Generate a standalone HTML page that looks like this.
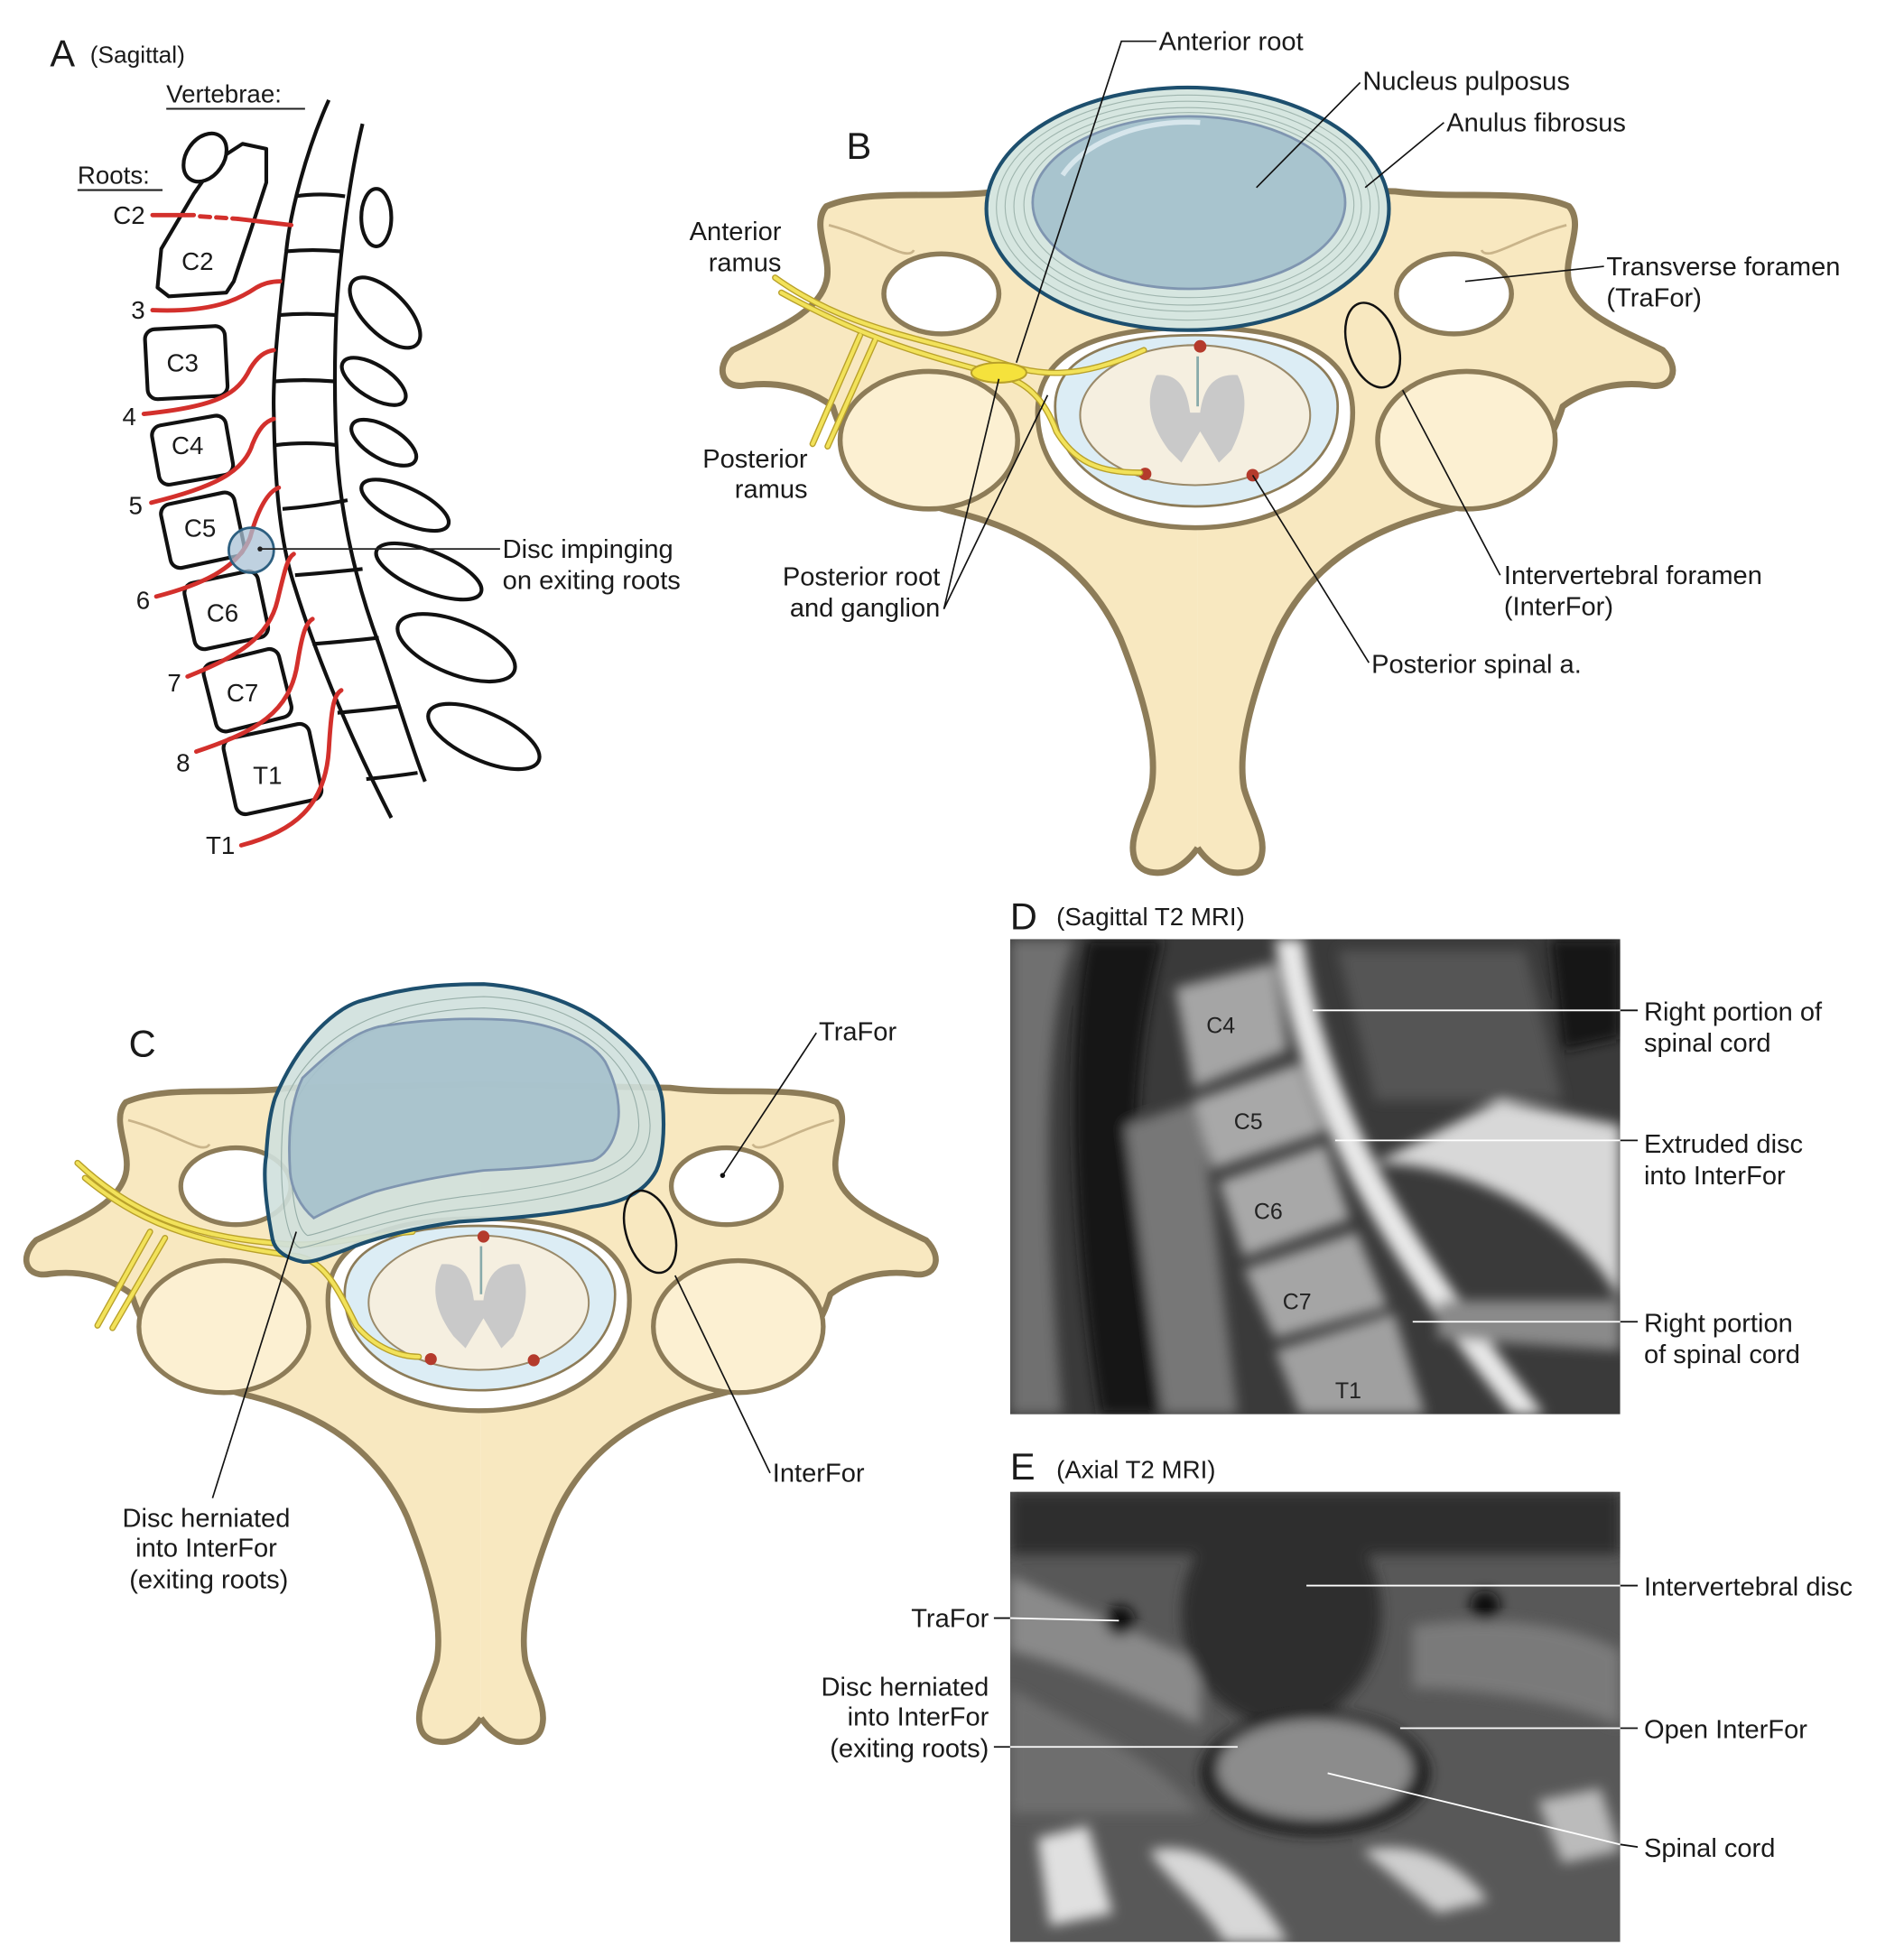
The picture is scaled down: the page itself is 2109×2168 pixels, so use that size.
<!DOCTYPE html>
<html><head><meta charset="utf-8"><style>
html,body{margin:0;padding:0;background:#fff;}
svg{display:block;}
text{font-family:"Liberation Sans",Arial,sans-serif;fill:#1a1a1a;}
</style></head><body>
<svg width="2109" height="2168" viewBox="0 0 1523 1565" preserveAspectRatio="none" xmlns="http://www.w3.org/2000/svg">
<defs>
<filter id="bl" x="-10%" y="-10%" width="120%" height="120%"><feGaussianBlur stdDeviation="5"/></filter>
<clipPath id="cd"><rect x="808" y="751" width="488" height="380"/></clipPath>
<clipPath id="ce"><rect x="808" y="1193" width="488" height="360"/></clipPath>
<g id="half">
<path d="M958,150 L1116,153 C1170,160 1220,150 1255,165 C1268,180 1250,205 1255,225 C1262,252 1300,265 1330,280 C1345,295 1338,312 1318,308 C1295,305 1270,310 1250,325 C1235,375 1195,400 1150,410 C1090,425 1045,455 1020,510 C1000,560 990,600 995,630 C1000,650 1015,670 1008,688 C1003,700 985,700 975,694 C968,690 962,684 958,678 Z" fill="#f8e8c0"/>
<path d="M958,150 L1116,153 C1170,160 1220,150 1255,165 C1268,180 1250,205 1255,225 C1262,252 1300,265 1330,280 C1345,295 1338,312 1318,308 C1295,305 1270,310 1250,325 C1235,375 1195,400 1150,410 C1090,425 1045,455 1020,510 C1000,560 990,600 995,630 C1000,650 1015,670 1008,688 C1003,700 985,700 975,694 C968,690 962,684 958,678" fill="none" stroke="#8d7c58" stroke-width="5" stroke-linejoin="round"/>
<path d="M1253,180 C1215,190 1190,210 1185,200" fill="none" stroke="#c9b48a" stroke-width="2"/>
<ellipse cx="1173" cy="352" rx="71" ry="55" fill="#fcf0d2" stroke="#8d7c58" stroke-width="4"/>
<ellipse cx="1163" cy="235" rx="46" ry="32" fill="#fff" stroke="#8d7c58" stroke-width="4"/>
</g>
<g id="vert">
<use href="#half"/>
<use href="#half" transform="matrix(-1,0,0,1,1916,0)"/>
<path d="M830,330 C830,280 880,262 956,262 C1040,262 1082,285 1082,330 C1082,390 1020,422 956,422 C890,422 830,390 830,330 Z" fill="#fff" stroke="#8d7c58" stroke-width="4"/>
<path d="M844,325 C844,285 890,268 956,268 C1030,268 1070,290 1070,325 C1070,375 1015,405 956,405 C898,405 844,375 844,325 Z" fill="#dcedf5" stroke="#8d7c58" stroke-width="2"/>
<ellipse cx="956" cy="332" rx="92" ry="56" fill="#f5efe0" stroke="#9a8a6a" stroke-width="1.5"/>
<path d="M925,300 C945,298 950,315 952,330 L960,330 C962,315 968,298 990,300 C1000,320 995,340 985,360 L975,370 L960,345 L945,370 L935,360 C920,340 915,320 925,300 Z" fill="#c9c9c9"/>
<line x1="958" y1="285" x2="958" y2="325" stroke="#8aa" stroke-width="2"/>
<circle cx="960" cy="277" r="5" fill="#b43a2c"/><circle cx="916" cy="379" r="5" fill="#b43a2c"/><circle cx="1002" cy="380" r="5" fill="#b43a2c"/>
</g>
</defs>

<!-- ===== Panel A ===== -->
<text x="40" y="53" font-size="30">A</text><text x="72" y="50" font-size="19">(Sagittal)</text>
<text x="133" y="82" font-size="20">Vertebrae:</text><line x1="133" y1="87" x2="244" y2="87" stroke="#222" stroke-width="1.5"/>
<text x="62" y="147" font-size="20">Roots:</text><line x1="62" y1="152" x2="130" y2="152" stroke="#222" stroke-width="1.5"/>
<g fill="none" stroke="#111" stroke-width="3">
<path d="M263,80 C245,120 232,170 229,201 C223,250 218,300 219,330 C220,400 226,440 236,470 C250,515 275,580 313,654"/>
<path d="M290,99 C280,140 272,200 269,252 C267,300 268,340 270,370 C275,430 290,480 303,515 C318,560 330,600 340,625"/>
<path d="M236,157 Q256,154 276,157 M229,201 Q250,199 272,201 M223,252 Q245,250 269,252 M219,305 Q243,303 268,305 M220,356 Q245,353 270,356 M226,407 Q252,405 278,400 M236,460 Q262,458 290,455 M250,515 Q276,513 303,510 M270,570 Q294,568 318,565 M293,623 Q314,621 334,618"/>
<path d="M126,230 L129,199 L155,155 L174,128 L194,115 L213,119 L213,146 L200,186 L187,225 L181,234 L135,237 Z" fill="#fff" stroke-linejoin="round"/>
<ellipse cx="164" cy="126" rx="15" ry="21" transform="rotate(35 164 126)" fill="#fff"/>
<rect x="117" y="262" width="64" height="56" rx="8" transform="rotate(-3 149 290)" fill="#fff"/>
<rect x="124" y="336" width="60" height="48" rx="8" transform="rotate(-10 154 360)" fill="#fff"/>
<rect x="132" y="398" width="60" height="52" rx="8" transform="rotate(-12 162 424)" fill="#fff"/>
<rect x="151" y="461" width="60" height="54" rx="8" transform="rotate(-12 181 488)" fill="#fff"/>
<rect x="167" y="524" width="62" height="56" rx="8" transform="rotate(-14 198 552)" fill="#fff"/>
<rect x="183" y="584" width="70" height="62" rx="8" transform="rotate(-12 218 615)" fill="#fff"/>
<ellipse cx="301" cy="174" rx="12" ry="23" fill="#fff"/>
<ellipse cx="308" cy="250" rx="36" ry="17" transform="rotate(45 308 250)" fill="#fff"/>
<ellipse cx="299" cy="305" rx="29" ry="13" transform="rotate(32 299 305)" fill="#fff"/>
<ellipse cx="307" cy="354" rx="29" ry="13" transform="rotate(30 307 354)" fill="#fff"/>
<ellipse cx="324" cy="404" rx="38" ry="14" transform="rotate(25 324 404)" fill="#fff"/>
<ellipse cx="343" cy="457" rx="45" ry="16" transform="rotate(22 343 457)" fill="#fff"/>
<ellipse cx="365" cy="518" rx="50" ry="21" transform="rotate(22 365 518)" fill="#fff"/>
<ellipse cx="387" cy="589" rx="48" ry="19" transform="rotate(24 387 589)" fill="#fff"/>
</g>
<g font-size="20" text-anchor="middle">
<text x="158" y="216">C2</text><text x="146" y="297">C3</text><text x="150" y="363">C4</text><text x="160" y="429">C5</text><text x="178" y="497">C6</text><text x="194" y="561">C7</text><text x="214" y="627">T1</text>
</g>
<g fill="none" stroke="#d3302c" stroke-width="3.5" stroke-linecap="round">
<path d="M122,172 L155,172"/><path d="M160,173 L190,175" stroke-dasharray="8,5"/><path d="M190,175 L233,180"/>
<path d="M122,248 C170,250 190,240 205,230 C212,226 218,225 224,225"/>
<path d="M115,331 C175,325 190,315 200,295 C206,285 212,281 219,280"/>
<path d="M121,402 C170,390 195,378 202,355 C207,343 212,337 219,335"/>
<path d="M125,477 C160,468 190,455 200,430 C207,405 215,393 223,390"/>
<path d="M150,541 C190,525 215,510 222,480 C228,455 230,446 235,443"/>
<path d="M157,601 C205,585 232,570 238,530 C242,505 245,498 250,495"/>
<path d="M193,676 C235,665 260,645 263,600 C265,565 267,556 273,552"/>
</g>
<circle cx="201" cy="440" r="18" fill="#a9c1d6" fill-opacity="0.75" stroke="#2d5f80" stroke-width="2"/>
<g font-size="20" text-anchor="end">
<text x="116" y="179">C2</text><text x="116" y="255">3</text><text x="109" y="340">4</text><text x="114" y="411">5</text><text x="120" y="487">6</text><text x="145" y="553">7</text><text x="152" y="617">8</text><text x="188" y="683">T1</text>
</g>
<line x1="208" y1="439" x2="400" y2="439" stroke="#222" stroke-width="1.3"/><circle cx="208" cy="439" r="2" fill="#222"/>
<text x="402" y="446" font-size="21">Disc impinging</text><text x="402" y="471" font-size="21">on exiting roots</text>

<!-- ===== Panel B ===== -->
<text x="677" y="127" font-size="30">B</text>
<use href="#vert"/>
<ellipse cx="950" cy="167" rx="161" ry="97" fill="#d6e6e0" stroke="#1d4f6e" stroke-width="3"/>
<g fill="none" stroke="#9fb5ae" stroke-width="0.8">
<ellipse cx="950" cy="166" rx="153" ry="90"/><ellipse cx="950" cy="165" rx="146" ry="84"/><ellipse cx="950" cy="165" rx="139" ry="79"/><ellipse cx="951" cy="164" rx="132" ry="74"/>
</g>
<ellipse cx="951" cy="162" rx="125" ry="69" fill="#a8c4ce" stroke="#7f95b0" stroke-width="2"/>
<path d="M850,140 C870,110 920,95 960,98" fill="none" stroke="#d7e6ec" stroke-width="4"/>
<g fill="none" stroke-linecap="round">
<g stroke="#b9a12a" stroke-width="5">
<path d="M620,222 C680,265 740,270 800,290 C830,300 860,305 915,280"/>
<path d="M625,234 C690,270 740,285 800,300 C820,305 835,318 845,345 C860,370 880,378 912,378"/>
<path d="M688,268 L650,355 M700,272 L662,357"/>
</g>
<g stroke="#f2e25a" stroke-width="3">
<path d="M620,222 C680,265 740,270 800,290 C830,300 860,305 915,280"/>
<path d="M625,234 C690,270 740,285 800,300 C820,305 835,318 845,345 C860,370 880,378 912,378"/>
<path d="M688,268 L650,355 M700,272 L662,357"/>
</g>
</g>
<ellipse cx="799" cy="298" rx="22" ry="8" fill="#f5e23c" stroke="#b9a12a" stroke-width="1.5"/>
<ellipse cx="1098" cy="276" rx="20" ry="35" transform="rotate(-18 1098 276)" fill="none" stroke="#111" stroke-width="1.8"/>
<g stroke="#111" stroke-width="1.2" fill="none">
<path d="M925,33 H897 L813,290"/><path d="M1088,66 L1005,150"/><path d="M1155,98 L1092,150"/>
<path d="M1283,213 L1172,225"/><path d="M1200,460 L1122,312"/><path d="M1095,530 L1002,380"/>
<path d="M755,487 L799,303"/><path d="M755,487 L838,316"/>
</g>
<g font-size="21">
<text x="927" y="40">Anterior root</text><text x="1090" y="72">Nucleus pulposus</text><text x="1157" y="105">Anulus fibrosus</text>
<text x="1285" y="220">Transverse foramen</text><text x="1285" y="245">(TraFor)</text>
<text x="1203" y="467">Intervertebral foramen</text><text x="1203" y="492">(InterFor)</text>
<text x="1097" y="538">Posterior spinal a.</text>
</g>
<g font-size="21" text-anchor="end">
<text x="625" y="192">Anterior</text><text x="625" y="217">ramus</text>
<text x="646" y="374">Posterior</text><text x="646" y="398">ramus</text>
<text x="752" y="468">Posterior root</text><text x="752" y="493">and ganglion</text>
</g>

<!-- ===== Panel C ===== -->
<text x="103" y="845" font-size="30">C</text>
<use href="#vert" transform="translate(-532,723) scale(0.957,0.96)"/>
<g fill="none" stroke-linecap="round">
<g stroke="#b9a12a" stroke-width="5">
<path d="M62,930 C110,975 160,990 230,995 C260,997 290,988 330,985"/>
<path d="M68,942 C120,985 170,995 240,1005 C260,1010 270,1030 285,1060 C300,1078 320,1085 335,1085"/>
<path d="M120,985 L78,1060 M132,990 L90,1062"/>
</g>
<g stroke="#f2e25a" stroke-width="3">
<path d="M62,930 C110,975 160,990 230,995 C260,997 290,988 330,985"/>
<path d="M68,942 C120,985 170,995 240,1005 C260,1010 270,1030 285,1060 C300,1078 320,1085 335,1085"/>
<path d="M120,985 L78,1060 M132,990 L90,1062"/>
</g>
</g>
<path d="M220,878 C240,830 270,805 290,800 C330,788 360,787 387,787 C430,790 465,805 484,820 C510,840 528,860 530,882 C532,905 530,925 525,936 C515,955 495,962 474,965 C440,972 400,975 367,977 C330,982 300,990 280,998 C262,1005 250,1010 242,1009 C228,1006 220,1000 218,991 C213,965 210,940 213,924 C214,905 216,890 220,878 Z" fill="#cfe0dd" fill-opacity="0.9" stroke="#1d4f6e" stroke-width="3"/>
<g fill="none" stroke="#97aea8" stroke-width="0.8">
<path d="M228,880 C250,830 300,800 387,797 C470,800 518,850 520,900 C520,940 480,955 370,967 C300,975 260,995 240,998 C225,990 222,930 228,880 Z"/>
<path d="M236,882 C260,835 310,808 387,806 C465,810 510,850 511,900 C510,932 475,945 370,957 C305,965 265,985 246,988 C233,980 230,930 236,882 Z"/>
</g>
<path d="M242,862 C270,835 290,822 309,820 C350,814 380,814 411,816 C450,820 475,835 484,849 C495,870 497,890 493,903 C490,915 483,925 474,928 C440,933 410,935 387,936 C355,940 325,946 300,953 C280,960 262,968 251,974 C240,965 233,950 232,937 C230,905 233,880 242,862 Z" fill="#a6c1cc" fill-opacity="0.92" stroke="#7f95b0" stroke-width="2"/>
<ellipse cx="520" cy="985" rx="19" ry="34" transform="rotate(-18 520 985)" fill="none" stroke="#111" stroke-width="1.8"/>
<g stroke="#111" stroke-width="1.2" fill="none">
<path d="M653,826 L578,940"/><path d="M616,1178 L540,1020"/><path d="M170,1198 L237,985"/>
</g>
<circle cx="578" cy="940" r="2" fill="#111"/>
<g font-size="21">
<text x="655" y="832">TraFor</text><text x="618" y="1185">InterFor</text>
</g>
<g font-size="21" text-anchor="middle">
<text x="165" y="1221">Disc herniated</text><text x="165" y="1245">into InterFor</text><text x="167" y="1270">(exiting roots)</text>
</g>

<!-- ===== Panel D ===== -->
<text x="808" y="743" font-size="30">D</text><text x="845" y="740" font-size="20">(Sagittal T2 MRI)</text>
<g clip-path="url(#cd)">
<rect x="808" y="751" width="488" height="380" fill="#3a3a3a"/>
<g filter="url(#bl)">
<path d="M808,751 L860,751 C840,800 830,900 850,1131 L808,1131 Z" fill="#707070"/>
<path d="M870,751 L930,751 C905,850 900,950 930,1131 L880,1131 C860,1000 850,850 870,751 Z" fill="#151515"/>
<path d="M900,900 L960,880 L990,1131 L930,1131 Z" fill="#777"/>
<path d="M940,790 L1020,770 L1030,840 L955,870 Z" fill="#a5a5a5"/>
<path d="M955,880 L1040,850 L1060,905 L970,935 Z" fill="#a8a8a8"/>
<path d="M975,945 L1060,915 L1080,975 L995,1005 Z" fill="#a8a8a8"/>
<path d="M995,1015 L1085,985 L1110,1045 L1020,1070 Z" fill="#a5a5a5"/>
<path d="M1020,1080 L1115,1050 L1140,1131 L1040,1131 Z" fill="#a0a0a0"/>
<path d="M1020,751 C1030,820 1050,880 1080,940 C1110,1000 1160,1070 1210,1131 L1235,1131 C1180,1060 1130,990 1100,930 C1070,870 1050,810 1042,751 Z" fill="#e8e8e8"/>
<path d="M1100,930 C1180,930 1260,980 1290,1030 L1296,1040 L1296,900 L1200,880 Z" fill="#d8d8d8"/>
<path d="M1070,760 L1220,760 L1250,880 L1100,880 Z" fill="#555"/>
<path d="M1240,751 L1296,751 L1296,830 L1250,840 Z" fill="#151515"/>
<path d="M1150,1040 L1296,1040 L1296,1080 L1150,1070 Z" fill="#8a8a8a"/>
</g>
</g>
<g font-size="18">
<text x="965" y="826" style="fill:#222">C4</text><text x="987" y="903" style="fill:#222">C5</text><text x="1003" y="975" style="fill:#222">C6</text><text x="1026" y="1047" style="fill:#222">C7</text><text x="1068" y="1118" style="fill:#222">T1</text>
</g>
<g stroke="#111" stroke-width="1.3">
<line x1="1296" y1="808" x2="1310" y2="808"/><line x1="1296" y1="912" x2="1310" y2="912"/><line x1="1296" y1="1057" x2="1310" y2="1057"/>
</g>
<g stroke="#fff" stroke-width="1.3">
<line x1="1050" y1="808" x2="1296" y2="808"/><line x1="1068" y1="912" x2="1296" y2="912"/><line x1="1130" y1="1057" x2="1296" y2="1057"/>
</g>
<g font-size="21">
<text x="1315" y="816">Right portion of</text><text x="1315" y="841">spinal cord</text>
<text x="1315" y="922">Extruded disc</text><text x="1315" y="947">into InterFor</text>
<text x="1315" y="1065">Right portion</text><text x="1315" y="1090">of spinal cord</text>
</g>

<!-- ===== Panel E ===== -->
<text x="808" y="1183" font-size="30">E</text><text x="845" y="1182" font-size="20">(Axial T2 MRI)</text>
<g clip-path="url(#ce)">
<rect x="808" y="1193" width="488" height="360" fill="#585858"/>
<g filter="url(#bl)">
<rect x="808" y="1193" width="488" height="50" fill="#2e2e2e"/>
<path d="M808,1260 C850,1280 900,1300 960,1330 L960,1380 C900,1350 850,1330 808,1320 Z" fill="#8a8a8a"/>
<path d="M1130,1300 C1200,1290 1260,1300 1296,1320 L1296,1380 C1250,1360 1180,1350 1130,1350 Z" fill="#7a7a7a"/>
<ellipse cx="1025" cy="1290" rx="80" ry="90" fill="#2f2f2f"/>
<ellipse cx="1052" cy="1418" rx="92" ry="50" fill="#1e1e1e"/>
<ellipse cx="1052" cy="1415" rx="78" ry="40" fill="#8c8c8c"/>
<path d="M830,1470 L870,1460 L890,1530 L840,1540 Z" fill="#e0e0e0"/>
<path d="M920,1480 C960,1470 1000,1500 1030,1553 L980,1553 C960,1520 930,1500 920,1480 Z" fill="#d8d8d8"/>
<path d="M1090,1480 C1130,1470 1170,1490 1190,1520 L1150,1530 Z" fill="#cfcfcf"/>
<path d="M1230,1440 L1280,1430 L1296,1480 L1250,1490 Z" fill="#bbb"/>
<ellipse cx="896" cy="1296" rx="12" ry="12" fill="#111"/>
<ellipse cx="1188" cy="1284" rx="12" ry="12" fill="#111"/>
<path d="M808,1350 C860,1380 920,1400 960,1450 L808,1450 Z" fill="#6e6e6e"/>
</g>
</g>
<g stroke="#111" stroke-width="1.3">
<line x1="1296" y1="1268" x2="1310" y2="1268"/><line x1="1296" y1="1382" x2="1310" y2="1382"/><line x1="1296" y1="1475" x2="1310" y2="1477"/>
<line x1="795" y1="1294" x2="808" y2="1294"/><line x1="795" y1="1397" x2="808" y2="1397"/>
</g>
<g stroke="#fff" stroke-width="1.3">
<line x1="1045" y1="1268" x2="1296" y2="1268"/><line x1="1120" y1="1382" x2="1296" y2="1382"/><line x1="1062" y1="1418" x2="1296" y2="1475"/>
<line x1="808" y1="1294" x2="895" y2="1296"/><line x1="808" y1="1397" x2="990" y2="1397"/>
</g>
<g font-size="21">
<text x="1315" y="1276">Intervertebral disc</text><text x="1315" y="1390">Open InterFor</text><text x="1315" y="1485">Spinal cord</text>
</g>
<g font-size="21" text-anchor="end">
<text x="791" y="1301">TraFor</text>
<text x="791" y="1356">Disc herniated</text><text x="791" y="1380">into InterFor</text><text x="791" y="1405">(exiting roots)</text>
</g>
</svg>
</body></html>
